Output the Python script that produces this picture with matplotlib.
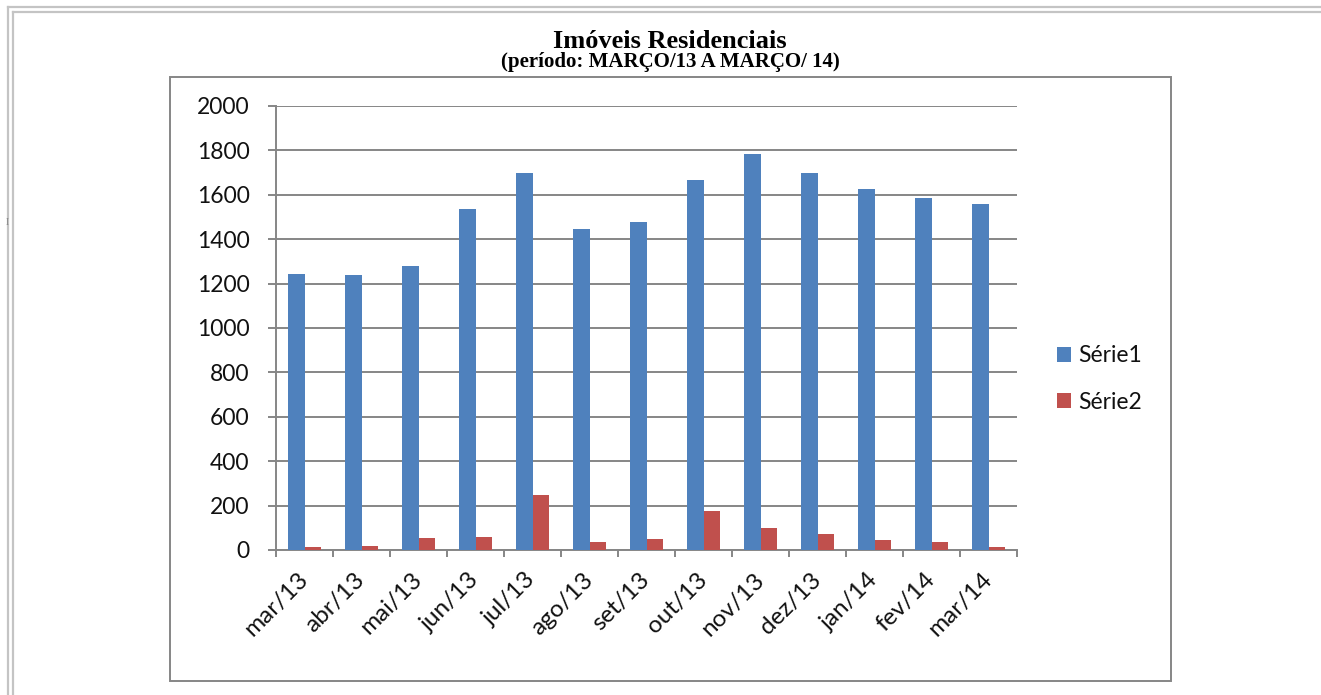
import matplotlib
matplotlib.use("Agg")
import matplotlib.pyplot as plt
from matplotlib.lines import Line2D
from matplotlib.patches import Rectangle
import numpy as np

categories = ["mar/13", "abr/13", "mai/13", "jun/13", "jul/13", "ago/13", "set/13",
              "out/13", "nov/13", "dez/13", "jan/14", "fev/14", "mar/14"]
serie1 = [1242, 1238, 1278, 1535, 1700, 1447, 1477, 1668, 1785, 1700, 1626, 1584, 1557]
serie2 = [14, 20, 52, 58, 249, 36, 48, 175, 99, 72, 45, 36, 12]
series_names = ["Série1", "Série2"]
yticks = [0, 200, 400, 600, 800, 1000, 1200, 1400, 1600, 1800, 2000]
title = "Imóveis Residenciais"
subtitle = "(período: MARÇO/13 A MARÇO/ 14)"

W, H = 1321, 695
fig = plt.figure(figsize=(W / 100, H / 100), dpi=100)
fig.patch.set_facecolor("white")

def fx(px):
    return px / W

def fy(py):
    return 1 - py / H

GRAY = "#868686"
FONT = "Lato"
TXT = "#111111"

# outer double frame
frame_c = "#c4c4c4"
for x in (8, 13):
    fig.add_artist(Line2D([fx(x), fx(x)], [fy(695), fy(7 if x == 8 else 12)],
                          transform=fig.transFigure, color=frame_c, lw=1.6))
for y, x0 in ((7, 8), (12, 13)):
    fig.add_artist(Line2D([fx(x0), fx(W)], [fy(y), fy(y)],
                          transform=fig.transFigure, color=frame_c, lw=1.6))
fig.text(fx(7), fy(222), "I", fontsize=7, color="#888888", family="Liberation Serif",
         ha="center", va="center")

# chart area box
fig.add_artist(Rectangle((fx(170), fy(681)), fx(1171) - fx(170), fy(77) - fy(681),
                         transform=fig.transFigure, fill=False, edgecolor=GRAY, lw=1.4))

ax = fig.add_axes([fx(276), fy(550), fx(1017) - fx(276), fy(106) - fy(550)])
x = np.arange(len(categories))
bw = 1 / 3.5
ax.bar(x - bw / 2, serie1, width=bw, color="#4F81BD", label=series_names[0], zorder=3)
ax.bar(x + bw / 2, serie2, width=bw, color="#C0504D", label=series_names[1], zorder=3)

ax.set_xlim(-0.5, len(categories) - 0.5)
ax.set_ylim(0, 2000)
ax.set_yticks(yticks)
ax.set_yticklabels([str(v) for v in yticks], fontsize=16.5, family=FONT, color=TXT)
ax.yaxis.grid(True, color=GRAY, lw=1.4, zorder=0)
ax.set_axisbelow(True)
ax.tick_params(axis="y", length=6, width=1.4, color=GRAY, pad=13)

ax.set_xticks(x)
ax.set_xticklabels(categories, fontsize=17.5, family=FONT, rotation=45, color=TXT,
                   ha="right", va="center", rotation_mode="anchor")
ax.tick_params(axis="x", which="major", length=0, pad=19)
ax.set_xticks(np.arange(-0.5, len(categories), 1.0), minor=True)
ax.tick_params(axis="x", which="minor", length=5, width=1.4, color=GRAY)

for s in ("top", "right"):
    ax.spines[s].set_visible(False)
for s in ("left", "bottom"):
    ax.spines[s].set_color(GRAY)
    ax.spines[s].set_linewidth(1.4)

leg = ax.legend(loc="center left", bbox_to_anchor=(fx(1057), fy(379)),
                bbox_transform=fig.transFigure, frameon=False,
                prop={"family": FONT, "size": 16.5},
                handlelength=0.62, handleheight=0.62, handletextpad=0.3,
                labelspacing=1.1, borderpad=0, borderaxespad=0)
for t in leg.get_texts():
    t.set_color(TXT)

fig.text(fx(670), fy(48), title, ha="center", va="baseline", fontsize=19,
         fontweight="bold", family="Liberation Serif")
fig.text(fx(670), fy(67), subtitle, ha="center", va="baseline", fontsize=15,
         fontweight="bold", family="Liberation Serif")

fig.savefig("out.png", dpi=100, facecolor="white")
